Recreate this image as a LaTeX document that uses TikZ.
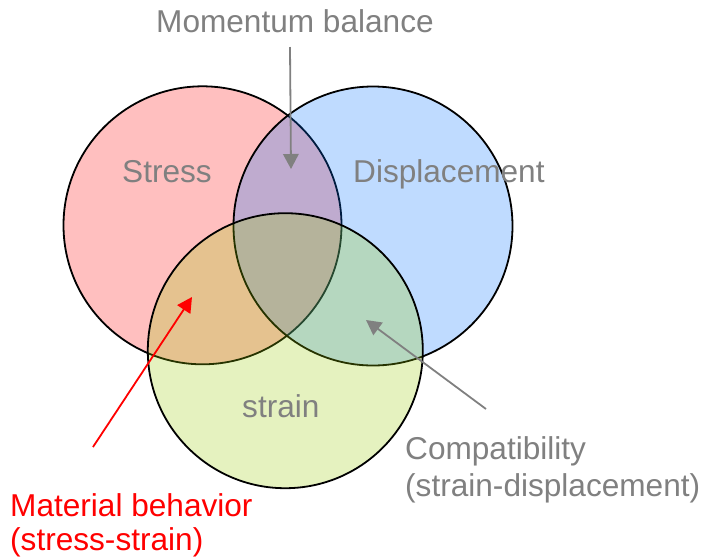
\documentclass[tikz,border=0pt]{standalone}
\usepackage{fontspec}
\setmainfont{Liberation Sans}
\usetikzlibrary{arrows.meta}

\definecolor{setred}{RGB}{255,0,0}
\definecolor{setblue}{RGB}{0,112,255}
\definecolor{setgreen}{RGB}{153,204,0}
\definecolor{labelgray}{RGB}{128,128,128}

\tikzset{
  setdisc/.style={draw=black, line width=1.8pt, fill opacity=0.25, draw opacity=1},
  label/.style={inner sep=0pt, anchor=base west, font=\fontsize{31.6}{37}\selectfont},
  pointer/.style={line width=1.8pt, -{Triangle[width=15.5pt,length=15pt]}},
}

\begin{document}
\begin{tikzpicture}[x=1pt,y=-1pt]
  \useasboundingbox (0,0) rectangle (705,558);

  % the three overlapping sets
  \draw[setdisc, fill=setred]   (202.5,225.3) circle[radius=139];
  \draw[setdisc, fill=setblue]  (373,226)     circle[radius=139.5];
  \draw[setdisc, fill=setgreen] (285.3,350.7) circle[radius=137.5];

  % set names
  \node[label, text=labelgray] (stress) at (122,182) {Stress};
  \node[label, text=labelgray] (displ)  at (353,182) {Displacement};
  \node[label, text=labelgray] (strain) at (242,417) {strain};

  % relation labels
  \node[label, text=labelgray] (momentum) at (156,32) {Momentum balance};
  \node[label, text=labelgray] (compat1)  at (405,459) {Compatibility};
  \node[label, text=labelgray] (compat2)  at (405,496) {(strain-displacement)};
  \node[label, text=setred]    (mat1)     at (10,516) {Material behavior};
  \node[label, text=setred]    (mat2)     at (10,550) {(stress-strain)};

  % pointer ends
  \coordinate (momtail) at (290,47);
  \coordinate (momtip)  at (291,169);
  \coordinate (mattail) at (93,447);
  \coordinate (mattip)  at (192,297);
  \coordinate (comtail) at (486,409);
  \coordinate (comtip)  at (366,320);

  \draw[pointer, labelgray] (momtail) -- (momtip);
  \draw[pointer, setred]    (mattail) -- (mattip);
  \draw[pointer, labelgray] (comtail) -- (comtip);
\end{tikzpicture}
\end{document}
